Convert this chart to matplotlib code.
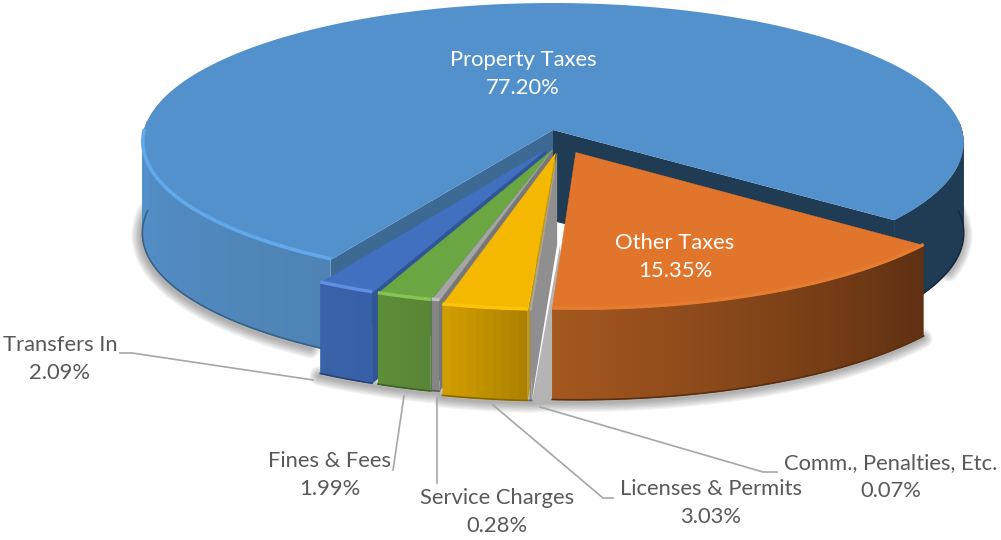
import numpy as np
import matplotlib
matplotlib.use('Agg')
import matplotlib.pyplot as plt
from matplotlib.colors import to_rgb

plt.rcParams['font.family'] = ['Lato', 'DejaVu Sans']

# data, in the order the pie runs (clockwise on screen)
categories = ['Property Taxes', 'Other Taxes', 'Comm., Penalties, Etc.', 'Licenses & Permits',
              'Service Charges', 'Fines & Fees', 'Transfers In']
shares = [77.20, 15.35, 0.07, 3.03, 0.28, 1.99, 2.09]

# styling for each slice
top_colors = ['#5391cc', '#e2752c', '#a5a5a5', '#f5b800', '#a5a5a5', '#6aa742', '#4070bf']
rim_colors = ['#62a9ec', '#e67c30', '#a5a5a5', '#ffc408', '#c0c0c0', '#86c455', '#5f90e4']
wall_colors = [('#4f83b5', '#5391cc'), ('#a5581f', '#5f3012'), ('#8c8c8c', '#8c8c8c'),
               ('#d4a000', '#ae8200'), ('#858585', '#858585'), ('#5d8f38', '#598536'),
               ('#3a62a8', '#3860a8')]
side_colors = ['#3d6a94', '#203c55', '#8f8f8f', '#c89800', '#777777', '#44702a', '#2f5597']
# how far each slice is pulled out of the pie, in units of the radius
pulled = [(0, 0), (0.055, 0.16), (0.010, 0.166), (0.006, 0.166),
          (-0.001, 0.142), (-0.003, 0.145), (-0.016, 0.14)]

# pie layout, in pixels
cx, cy = 553, 130
rx, ry = 409, 138.4
tilt = 0.09
depth = 91
start_angle = 38


def project(u, v, down=0):
    w = 1 - tilt * v
    return cx + rx * u / w, cy + ry * v / w + down


def arc(t0, t1, off, down=0):
    t = np.radians(np.linspace(t0, t1, max(int(abs(t1 - t0) * 2), 2) + 1))
    return project(off[0] + np.cos(t), off[1] + np.sin(t), down)


fig = plt.figure(figsize=(10.01, 5.40), dpi=100)
ax = fig.add_axes([0, 0, 1, 1])
ax.set_xlim(0, 1001)
ax.set_ylim(540, 0)
ax.axis('off')

# the front slices start at start_angle, Property Taxes closes the circle
edges = start_angle + np.cumsum([0] + shares[1:]) * 360 / sum(shares)
bounds = [(edges[-1], start_angle + 360)] + [(edges[i], edges[i + 1]) for i in range(6)]


def soft_shadow(x, y):
    for lw in [2, 4, 6, 8, 10, 12, 14]:
        ax.plot(x - 1, y + 2, color='#404040', lw=lw, alpha=0.07, solid_capstyle='round', zorder=1)


# shadows first
x, y = arc(bounds[0][0] + 3, 186, pulled[0], depth)
soft_shadow(x, y)
x, y = arc(-20, 20, pulled[0], depth)
soft_shadow(x, y)
front = [arc(bounds[i][0], bounds[i][1], pulled[i], depth) for i in range(1, 7)]
soft_shadow(np.concatenate([p[0] for p in front]), np.concatenate([p[1] for p in front]))


def draw_wall(t0, t1, off, c0, c1, zorder):
    t = np.linspace(t0, t1, max(int(abs(t1 - t0)), 2) + 1)
    c0, c1 = np.array(to_rgb(c0)), np.array(to_rgb(c1))
    for k in range(len(t) - 1):
        # each strip runs a little into the next one so no seams show
        xa, ya = arc(t[k], min(t[k + 1] + 1, t1), off)
        col = c0 + (c1 - c0) * k / (len(t) - 1)
        ax.fill(np.r_[xa, xa[::-1]], np.r_[ya, ya[::-1] + depth], color=col, lw=0, zorder=zorder)
    xa, ya = arc(t0, t1, off, depth)
    ax.plot(xa, ya - 0.5, color=(c0 + c1) / 2 * 0.7, lw=1.2, zorder=zorder)


def draw_side(t, off, color, zorder):
    xa, ya = project(off[0], off[1])
    xb, yb = project(off[0] + np.cos(np.radians(t)), off[1] + np.sin(np.radians(t)))
    ax.fill([xa, xb, xb, xa], [ya, yb, yb + depth, ya + depth], color=color, lw=0, zorder=zorder)


# Property Taxes
t0, t1 = bounds[0]
off = pulled[0]
draw_side(t0, off, side_colors[0], 2)
draw_side(t1, off, side_colors[1], 2)
draw_wall(t0, 184, off, wall_colors[0][0], wall_colors[0][1], 2)
draw_wall(-4, start_angle, off, side_colors[1], side_colors[1], 2)
xa, ya = arc(t0, t1, off)
xo, yo = project(off[0], off[1])
ax.fill(np.r_[xo, xa], np.r_[yo, ya], color=top_colors[0], lw=0, zorder=3)
xa, ya = arc(t0, 180, off)
ax.plot(xa + 0.5, ya - 1, color=rim_colors[0], lw=2.6, solid_capstyle='butt', zorder=4)

# shadow that Other Taxes leaves on the gap next to it
xa, ya = project(pulled[2][0] + np.cos(np.radians(bounds[2][0])), pulled[2][1] + np.sin(np.radians(bounds[2][0])), depth)
xb, yb = project(pulled[1][0] + np.cos(np.radians(bounds[1][1])), pulled[1][1] + np.sin(np.radians(bounds[1][1])), depth)
xc, yc = project(pulled[2][0], pulled[2][1], depth)
ax.fill([xa, xb, xb + 10, xc + 3], [ya + 2, yb + 2, yb - 60, yc], color='#b4b4b4', lw=0, zorder=3)

# the slices in front, left to right
for i in [6, 5, 4, 3, 2, 1]:
    t0, t1 = bounds[i]
    off = pulled[i]
    z = 10 + (6 - i) * 2
    if i != 1:
        draw_side(t0, off, side_colors[i], z)
    draw_wall(t0, t1, off, wall_colors[i][1], wall_colors[i][0], z)
    xa, ya = arc(t0, t1, off)
    xo, yo = project(off[0], off[1])
    ax.fill(np.r_[xo, xa], np.r_[yo, ya], color=top_colors[i], lw=0.3, zorder=z + 1)
    ax.plot(xa, ya - 1, color=rim_colors[i], lw=2.4, solid_capstyle='butt', zorder=z + 1)

# leader lines
leaders = [([120, 132, 313], [353, 353, 380]),
           ([393, 404], [470, 396]),
           ([437, 437], [483, 398]),
           ([613, 603, 493], [498, 498, 405]),
           ([777, 763, 540], [472, 472, 407])]
for lx, ly in leaders:
    ax.plot(lx, ly, color='#a6a6a6', lw=1.2, zorder=30)

# labels
label_x = [523, 675, 891, 711, 497, 330, 60]
label_y = [74, 257, 477, 503, 512, 475, 359]
label_colors = ['white', 'white', '#595959', '#595959', '#595959', '#595959', '#595959']
for name, share, lx, ly, col in zip(categories, shares, label_x, label_y, label_colors):
    ax.text(lx, ly, f'{name}\n{share:.2f}%', color=col, fontsize=15.8, ha='center', va='center',
            linespacing=1.52, zorder=31)

fig.savefig('out.png', dpi=100)
